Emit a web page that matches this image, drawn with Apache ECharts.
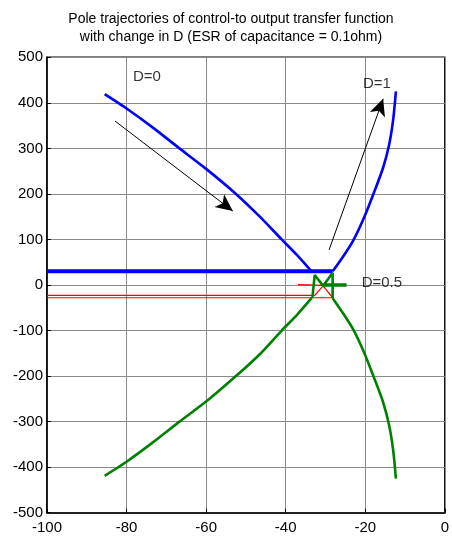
<!DOCTYPE html>
<html>
<head>
<meta charset="utf-8">
<script src="https://cdn.jsdelivr.net/npm/echarts@6/dist/echarts.min.js"></script>
<style>
html,body{margin:0;padding:0;background:#fff;}
#chart{width:452px;height:536px;}
</style>
</head>
<body>
<div id="chart"></div>
<script>
// ---- data ----
const titleLines = ['Pole trajectories of control-to output transfer function', 'with change in D (ESR of capacitance = 0.1ohm)'];
const xTicks = [-100, -80, -60, -40, -20, 0];
const yTicks = [-500, -400, -300, -200, -100, 0, 100, 200, 300, 400, 500];

const blueUpperLeft = [[-85.5,419],[-80,387.5],[-73.3,345],[-66.7,300],[-60,255],[-52.5,200],[-46.5,150],[-41,100],[-37.2,66],[-33.5,30]];
const blueHorizontal = [[-100,30],[-28.2,30]];
const blueUpperRight = [[-28.2,30],[-25.6,62],[-23.0,98],[-20.3,148],[-17.6,208],[-15.5,258],[-14.0,308],[-13.0,362],[-12.3,425]];

const greenLowerLeft = [[-85.5,-419],[-80,-388],[-73.3,-345],[-66.7,-300],[-60,-256],[-52.5,-200],[-46.5,-152],[-41,-100],[-37.2,-66],[-33.5,-29]];
const greenLowerRight = [[-28.2,-29],[-25.6,-62],[-23.0,-98],[-20.3,-148],[-17.6,-208],[-15.5,-258],[-14.0,-308],[-13.0,-362],[-12.3,-425]];
const greenCross = [[-33.3,-29],[-32.7,22],[-30.6,-2],[-28.2,27],[-28.2,-29]];
const greenHorizontal = [[-30.6,0],[-24.7,0]];

const redLoop = [[-100,-23],[-32.7,-23],[-30.6,-2],[-28.2,-28],[-100,-28]];
const redShort = [[-36.9,1],[-30.6,-1]];

const arrowD0 = [[-82.9,360],[-53.3,162.5]];
const arrowD1 = [[-29.1,77],[-15.5,409]];

const annotationNames = ['D=0', 'D=1', 'D=0.5'];
const annotationPoints = [[-78.4,456.7],[-20.6,441],[-20.9,4]];

// ---- chart ----
const FONT = 'Liberation Sans, Arial, sans-serif';
const chart = echarts.init(document.getElementById('chart'), null, {renderer: 'canvas'});

function lineSeries(data, color, width, z, smooth) {
  return {
    type: 'line', data: data, showSymbol: false, symbol: 'none',
    smooth: smooth || false,
    lineStyle: {color: color, width: width}, z: z, silent: true, animation: false
  };
}
function arrow(pts) {
  return [{coord: pts[0], symbol: 'none'}, {coord: pts[1], symbol: 'arrow'}];
}

const option = {
  animation: false,
  backgroundColor: '#fff',
  title: {
    text: titleLines.join('\n'),
    left: 226, top: 5, textAlign: 'center',
    textStyle: {fontFamily: FONT, fontSize: 14, fontWeight: 'normal', color: '#000', lineHeight: 18}
  },
  grid: {
    left: 47, right: 6.5, top: 57.3, bottom: 23.3,
    show: true, borderColor: '#000', borderWidth: 1.5, backgroundColor: 'transparent'
  },
  xAxis: {
    type: 'value', min: xTicks[0], max: xTicks[xTicks.length-1], interval: 20,
    axisLine: {show: true, onZero: false, lineStyle: {color: '#000', width: 1.5}},
    axisTick: {show: true, inside: true, length: 4, lineStyle: {color: '#000'}},
    splitLine: {show: true, lineStyle: {color: '#8a8a8a', width: 1}},
    axisLabel: {fontFamily: FONT, fontSize: 15, color: '#000', margin: 8, showMinLabel: true, showMaxLabel: true}
  },
  yAxis: {
    type: 'value', min: yTicks[0], max: yTicks[yTicks.length-1], interval: 100,
    axisLine: {show: true, onZero: false, lineStyle: {color: '#000', width: 1.5}},
    axisTick: {show: true, inside: true, length: 4, lineStyle: {color: '#000'}},
    splitLine: {show: true, lineStyle: {color: '#8a8a8a', width: 1}},
    axisLabel: {fontFamily: FONT, fontSize: 15, color: '#000', margin: 4, showMinLabel: true, showMaxLabel: true}
  },
  series: [
    lineSeries(redLoop, '#ff0000', 1.2, 3),
    lineSeries(redShort, '#ff0000', 1.2, 3),
    lineSeries(blueUpperLeft, '#0000ff', 2.6, 4, 0.2),
    lineSeries(blueHorizontal, '#0000ff', 4, 4),
    lineSeries(blueUpperRight, '#0000ff', 2.6, 4, 0.3),
    lineSeries(greenLowerLeft, '#008000', 2.6, 5, 0.2),
    lineSeries(greenLowerRight, '#008000', 2.6, 5, 0.3),
    lineSeries(greenCross, '#008000', 2.6, 5),
    lineSeries(greenHorizontal, '#008000', 3.5, 5),
    {
      type: 'line', data: [], silent: true, animation: false,
      markLine: {
        silent: true, animation: false,
        symbolSize: [12, 17],
        label: {show: false},
        lineStyle: {color: '#000', width: 1, type: 'solid'},
        emphasis: {disabled: true},
        data: [arrow(arrowD0), arrow(arrowD1)]
      },
      z: 6
    },
    {
      type: 'scatter', symbolSize: 0, silent: true, animation: false, z: 7,
      data: annotationPoints.map((p, i) => ({value: p, name: annotationNames[i]})),
      label: {
        show: true, position: 'right', distance: 0,
        formatter: (p) => p.name,
        fontFamily: FONT, fontSize: 15, color: '#000'
      }
    }
  ]
};
chart.setOption(option);
</script>
</body>
</html>
